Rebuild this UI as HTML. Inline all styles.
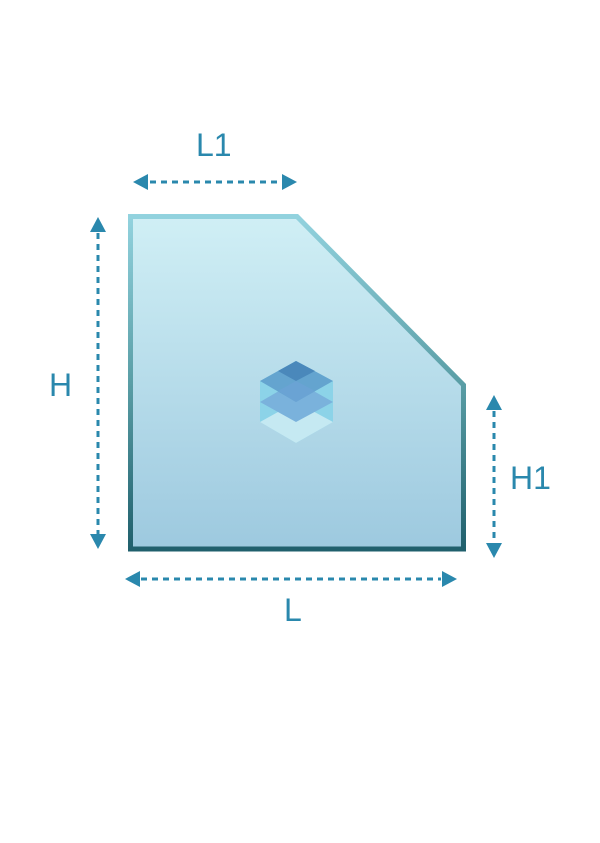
<!DOCTYPE html>
<html><head><meta charset="utf-8"><style>
html,body{margin:0;padding:0;background:#fff;}
svg{display:block;}
text{font-family:"Liberation Sans",sans-serif;fill:#2a88ad;font-size:32px;}
</style></head><body>
<svg width="600" height="843" viewBox="0 0 600 843">
<defs>
<linearGradient id="fill" x1="0" y1="0" x2="0" y2="1">
<stop offset="0" stop-color="#d0eff5"/><stop offset="1" stop-color="#9dc9df"/>
</linearGradient>
<linearGradient id="strk" gradientUnits="userSpaceOnUse" x1="0" y1="214" x2="0" y2="551">
<stop offset="0" stop-color="#93d3df"/><stop offset="0.5" stop-color="#5a9ea6"/><stop offset="1" stop-color="#1f5f6c"/>
</linearGradient>
</defs>
<polygon points="130.5,216.5 297,216.5 463.5,385 463.5,549 130.5,549" fill="url(#fill)" stroke="url(#strk)" stroke-width="5"/>
<!-- cube -->
<polygon points="260,381 296,361 333,381 333,422 296,443 260,422" fill="#8cd3e8"/>
<polygon points="260,422 296,402 333,422 296,443" fill="#c5e9f2"/>
<polygon points="260,402 296,381 333,402 296,422" fill="#7ab2dc"/>
<polygon points="260,381 296,361 333,381 296,402" fill="#64a4cf"/>
<polygon points="278,371 296,361 315,371 296,381" fill="#4a88bb"/>
<polygon points="278,391 296,381 315,391 296,402" fill="#6aa3d4"/>
<g stroke="#2a88ad" stroke-width="3" stroke-dasharray="6,5" fill="none">
<line x1="150" y1="182" x2="282" y2="182"/>
<line x1="98" y1="233" x2="98" y2="534"/>
<line x1="494" y1="411" x2="494" y2="543"/>
<line x1="141" y1="579" x2="441" y2="579"/>
</g>
<g fill="#2a88ad">
<polygon points="133,182 148,174 148,190"/>
<polygon points="297,182 282,174 282,190"/>
<polygon points="98,217 90,232 106,232"/>
<polygon points="98,549 90,534 106,534"/>
<polygon points="494,395 486,410 502,410"/>
<polygon points="494,558 486,543 502,543"/>
<polygon points="125,579 140,571 140,587"/>
<polygon points="457,579 442,571 442,587"/>
</g>
<text x="196" y="156">L1</text>
<text x="49" y="396">H</text>
<text x="510" y="489">H1</text>
<text x="284" y="621">L</text>
</svg>
</body></html>
